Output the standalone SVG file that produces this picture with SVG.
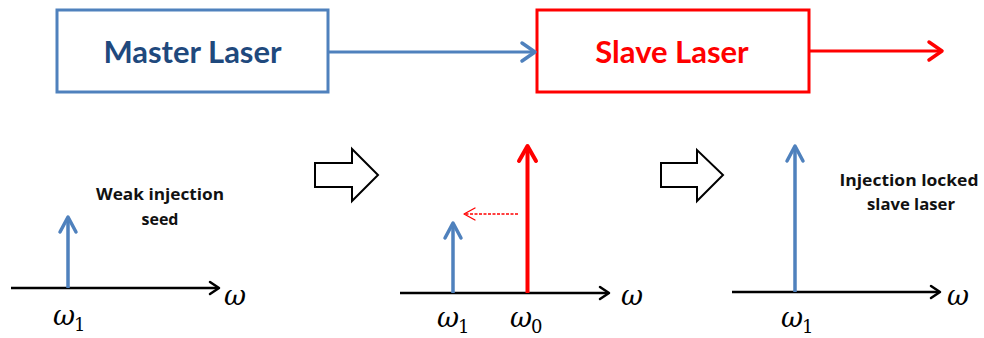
<svg xmlns="http://www.w3.org/2000/svg" width="984" height="338" viewBox="0 0 984 338">
<style>
.box{fill:#fff;stroke-width:3}
.title{font-family:Lato,"Liberation Sans",sans-serif;font-weight:bold;font-size:31px;text-anchor:middle}
.note{font-family:"Open Sans","Liberation Sans",sans-serif;font-weight:bold;font-size:16.5px;text-anchor:middle;fill:#111}
.w{font-family:"DejaVu Serif","Liberation Serif",serif;font-style:italic;font-size:27px;fill:#000}
.sub{font-family:"DejaVu Serif","Liberation Serif",serif;font-size:18px;fill:#000}
.axis{stroke:#000;stroke-width:2.5;fill:none}
.head{fill:none;stroke-linecap:round;stroke-linejoin:round}
.blue{stroke:#4F81BD}
.red{stroke:#FF0000}
.block{fill:#fff;stroke:#000;stroke-width:2;stroke-linejoin:miter}
</style>
<rect width="984" height="338" fill="#fff"/>
<g id="master">
<rect class="box blue" x="57" y="10" width="271" height="82"/>
<text class="title" x="192.5" y="63" fill="#1F497D">Master Laser</text>
</g>
<g id="slave">
<rect class="box red" x="537" y="10" width="272" height="82"/>
<text class="title" x="672" y="63" fill="#FF0000">Slave Laser</text>
</g>
<g id="connectors">
<line x1="329" y1="52" x2="534" y2="52" stroke="#4F81BD" stroke-width="3"/>
<polyline class="head blue" stroke-width="3.5" points="522,43 535,52 522,61"/>
<line x1="810" y1="51" x2="941" y2="51" stroke="#FF0000" stroke-width="3"/>
<polyline class="head red" stroke-width="3.5" points="929,42 942,51 929,60"/>
</g>
<g id="panel1">
<line class="axis" x1="11" y1="288" x2="218" y2="288"/>
<polyline class="head" stroke="#000" stroke-width="2.5" points="210,282 219,288 210,294"/>
<line x1="68" y1="288" x2="68" y2="218" stroke="#4F81BD" stroke-width="3.5"/>
<polyline class="head blue" stroke-width="3.5" points="60,232 68,217 76,232"/>
<text class="w" x="224" y="305">ω</text>
<text class="w" x="53" y="325">ω</text><text class="sub" x="74" y="331">1</text>
<text class="note" x="160" y="200" textLength="128" lengthAdjust="spacingAndGlyphs">Weak injection</text>
<text class="note" x="160" y="225" textLength="37" lengthAdjust="spacingAndGlyphs">seed</text>
</g>
<g id="step1">
<polygon class="block" points="315,163 352,163 352,149 378,175 352,201 352,187 315,187"/>
</g>
<g id="panel2">
<line class="axis" x1="400" y1="293" x2="608" y2="293"/>
<polyline class="head" stroke="#000" stroke-width="2.5" points="600,287 609,293 600,299"/>
<line x1="453" y1="293" x2="453" y2="224" stroke="#4F81BD" stroke-width="3.5"/>
<polyline class="head blue" stroke-width="3.5" points="445,238 453,223 461,238"/>
<line x1="527.5" y1="293" x2="527.5" y2="147" stroke="#FF0000" stroke-width="4"/>
<polyline class="head red" stroke-width="4" points="519,161 527.5,146 536,161"/>
<line x1="518" y1="214" x2="465" y2="214" stroke="#FF0000" stroke-width="1.3" stroke-dasharray="3,1.5"/>
<polyline class="head red" stroke-width="1.3" points="475,208 464,214 475,220"/>
<text class="w" x="621" y="305">ω</text>
<text class="w" x="437" y="327">ω</text><text class="sub" x="458" y="333">1</text>
<text class="w" x="510" y="327">ω</text><text class="sub" x="531" y="333">0</text>
</g>
<g id="step2">
<polygon class="block" points="661,163 697,163 697,150 723,175 697,201 697,187 661,187"/>
</g>
<g id="panel3">
<line class="axis" x1="732" y1="292" x2="939" y2="292"/>
<polyline class="head" stroke="#000" stroke-width="2.5" points="931,286 940,292 931,298"/>
<line x1="795" y1="292" x2="795" y2="147" stroke="#4F81BD" stroke-width="3.5"/>
<polyline class="head blue" stroke-width="3.5" points="787,161 795,146 803,161"/>
<text class="w" x="947" y="305">ω</text>
<text class="w" x="781" y="327">ω</text><text class="sub" x="802" y="333">1</text>
<text class="note" x="909" y="186" textLength="139" lengthAdjust="spacingAndGlyphs">Injection locked</text>
<text class="note" x="911" y="210" textLength="88" lengthAdjust="spacingAndGlyphs">slave laser</text>
</g>
</svg>
